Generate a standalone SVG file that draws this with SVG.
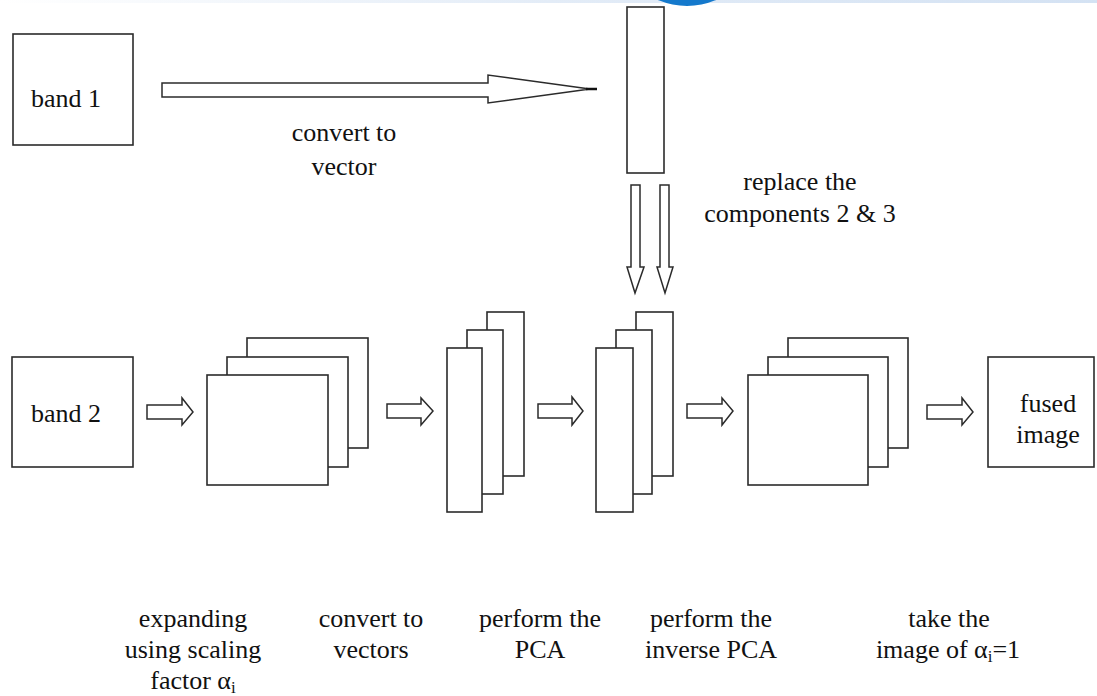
<svg xmlns="http://www.w3.org/2000/svg" width="1097" height="696" viewBox="0 0 1097 696">
<style>
.b{fill:#fff;stroke:#2b2b2b;stroke-width:1.6}
.a{fill:#fff;stroke:#2b2b2b;stroke-width:1.5;stroke-linejoin:miter}
.t{font-family:"Liberation Serif","Times New Roman",serif;font-size:26px;fill:#111;text-anchor:middle}
.s{font-size:17px}
</style>
<defs>
<linearGradient id="strip" x1="0" x2="1" y1="0" y2="0">
<stop offset="0" stop-color="#ffffff"/>
<stop offset="0.5" stop-color="#e3ecf7"/>
<stop offset="1" stop-color="#d4e2f3"/>
</linearGradient>
<radialGradient id="ball" cx="0.5" cy="0.3" r="0.7">
<stop offset="0" stop-color="#4aa8ee"/>
<stop offset="1" stop-color="#0b6fc4"/>
</radialGradient>
</defs>
<rect x="0" y="0" width="1097" height="696" fill="#fff"/>
<rect x="0" y="0" width="1097" height="3" fill="url(#strip)"/>
<circle cx="687" cy="-68" r="74" fill="#1479cc"/>

<g id="band1"><rect class="b" x="13" y="34" width="120" height="111"/><text class="t" x="66" y="107">band 1</text></g>
<g id="vector1"><rect class="b" x="627" y="7" width="37" height="166"/></g>

<g id="band2"><rect class="b" x="12" y="357" width="121" height="110"/><text class="t" x="66" y="422">band 2</text></g>
<g id="expanded"><rect class="b" x="247" y="338" width="121" height="110"/><rect class="b" x="227" y="357" width="121" height="110"/><rect class="b" x="207" y="375" width="121" height="110"/></g>
<g id="vectors"><rect class="b" x="487" y="312" width="37" height="164"/><rect class="b" x="467" y="330" width="36" height="164"/><rect class="b" x="447" y="348" width="35" height="164"/></g>
<g id="pca"><rect class="b" x="636" y="312" width="37" height="164"/><rect class="b" x="616" y="330" width="36" height="164"/><rect class="b" x="596" y="348" width="37" height="164"/></g>
<g id="inverse"><rect class="b" x="788" y="338" width="120" height="110"/><rect class="b" x="768" y="357" width="120" height="110"/><rect class="b" x="748" y="375" width="120" height="110"/></g>
<g id="fused"><rect class="b" x="988" y="357" width="106" height="110"/><text class="t" x="1048" y="412">fused</text><text class="t" x="1048" y="443">image</text></g>

<g id="connectors">
<polygon class="a" points="162,83 488,83 488,75 590,89 488,103 488,97 162,97"/>
<line x1="586" y1="89" x2="597" y2="89" stroke="#111" stroke-width="2.5"/>
<polygon class="a" points="631,185 640,185 640,267 644,267 635,293 627,267 631,267"/>
<polygon class="a" points="660,185 669,185 669,267 673,267 665,293 657,267 660,267"/>
<polygon class="a" points="147,405 182,405 182,398 193,412 182,425 182,419 147,419"/>
<polygon class="a" points="387,404 421,404 421,398 433,411 421,425 421,418 387,418"/>
<polygon class="a" points="538,404 572,404 572,397 583,411 572,425 572,418 538,418"/>
<polygon class="a" points="687,404 722,404 722,398 733,411 722,425 722,418 687,418"/>
<polygon class="a" points="927,405 962,405 962,398 973,412 962,425 962,419 927,419"/>
</g>

<g id="labels">
<text class="t" x="344" y="141">convert to</text>
<text class="t" x="344" y="175">vector</text>
<text class="t" x="800" y="190">replace the</text>
<text class="t" x="800" y="222">components 2 &amp; 3</text>
<text class="t" x="193" y="627">expanding</text>
<text class="t" x="193" y="658">using scaling</text>
<text class="t" x="193" y="689">factor α<tspan class="s" dy="4">i</tspan></text>
<text class="t" x="371" y="627">convert to</text>
<text class="t" x="371" y="658">vectors</text>
<text class="t" x="540" y="627">perform the</text>
<text class="t" x="540" y="658">PCA</text>
<text class="t" x="711" y="627">perform the</text>
<text class="t" x="711" y="658">inverse PCA</text>
<text class="t" x="949" y="627">take the</text>
<text class="t" x="948" y="658">image of α<tspan class="s" dy="4">i</tspan><tspan dy="-4">=1</tspan></text>
</g>
</svg>
